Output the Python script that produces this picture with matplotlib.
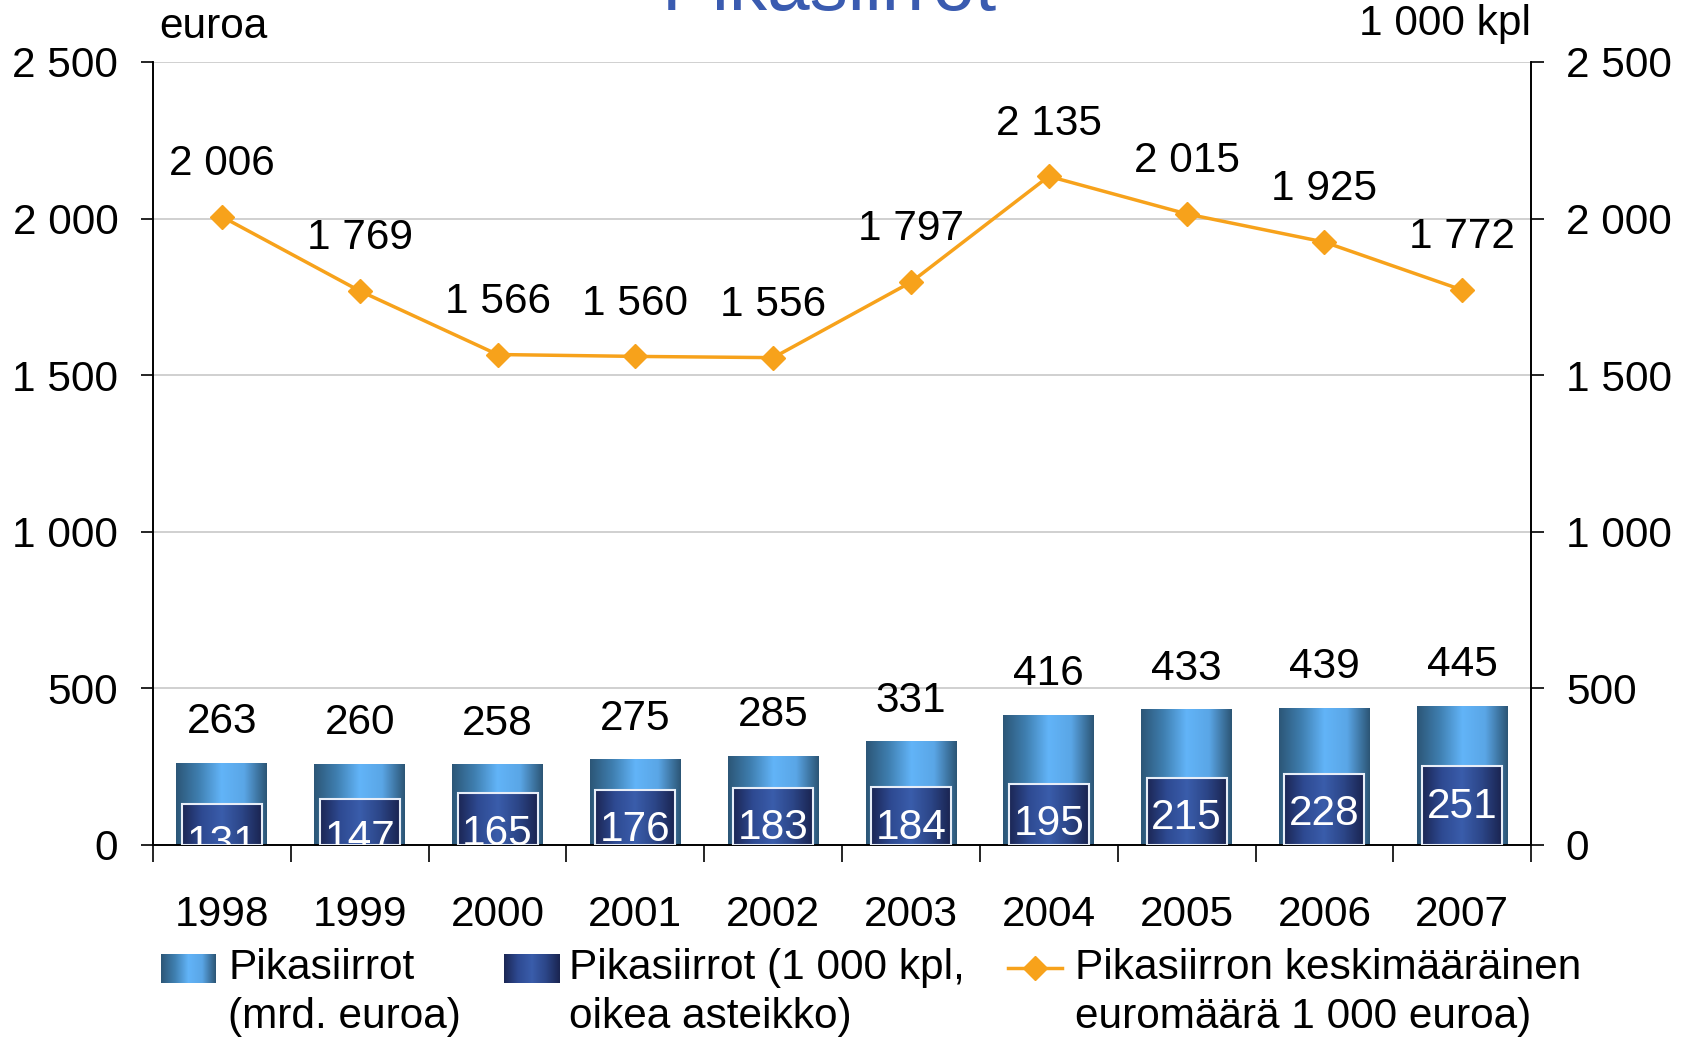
import matplotlib
matplotlib.use("Agg")
import matplotlib.pyplot as plt
import numpy as np
from matplotlib.colors import LinearSegmentedColormap
from matplotlib.lines import Line2D

plt.rcParams['font.family'] = ['Liberation Sans', 'DejaVu Sans']

# data
years = ['1998', '1999', '2000', '2001', '2002', '2003', '2004', '2005', '2006', '2007']
transfers_eur = [263, 260, 258, 275, 285, 331, 416, 433, 439, 445]      # mrd. euroa
transfers_kpl = [131, 147, 165, 176, 183, 184, 195, 215, 228, 251]      # 1 000 kpl
avg_amount = [2006, 1769, 1566, 1560, 1556, 1797, 2135, 2015, 1925, 1772]

yticks = [0, 500, 1000, 1500, 2000, 2500]

def fmt(v):
    return f"{v:,}".replace(",", " ")

light_cm = LinearSegmentedColormap.from_list('light', ['#2c5677', '#3f7fb0', '#62b4f8', '#5aa6e6', '#2c5575'])
dark_cm = LinearSegmentedColormap.from_list('dark', ['#1b2654', '#2e4a92', '#3a5dab', '#2c4688', '#1a2450'])
grad = np.linspace(0, 1, 256).reshape(1, -1)
orange = '#f7a21b'
FS = 30.5

fig = plt.figure(figsize=(16.82, 10.4), dpi=100)
ax = fig.add_axes([0.0910, 0.1875, 0.8193, 0.7529])
ax2 = ax.twinx()

x = np.arange(len(years))

# light bars (left scale)
bars = ax.bar(x, transfers_eur, width=0.66, color='none', zorder=2)
for r in bars:
    im = ax.imshow(grad, cmap=light_cm, aspect='auto', zorder=2,
                   extent=[r.get_x(), r.get_x() + r.get_width(), 0, r.get_height()])
    im.set_clip_path(r)
for xi, v in zip(x, transfers_eur):
    ax.annotate(str(v), (xi, v), xytext=(0, 29), textcoords='offset points',
                ha='center', va='center', fontsize=FS)

# dark bars (right scale)
bars2 = ax2.bar(x, transfers_kpl, width=0.58, color='none', edgecolor='none', zorder=2)
for r in bars2:
    im = ax2.imshow(grad, cmap=dark_cm, aspect='auto', zorder=2,
                    extent=[r.get_x(), r.get_x() + r.get_width(), 0, r.get_height()])
    im.set_clip_path(r)
ax2.bar(x, transfers_kpl, width=0.58, fill=False, edgecolor='#e8eef8', linewidth=1.5, zorder=3)
for xi, v in zip(x, transfers_kpl):
    ax2.annotate(str(v), (xi, v), xytext=(0, -29), textcoords='offset points',
                 ha='center', va='center', fontsize=FS, color='white', clip_on=True)

# average amount line (left scale)
ax.plot(x, avg_amount, color=orange, lw=2.5, marker='D', markersize=12, zorder=5)
for xi, v in zip(x, avg_amount):
    ax.annotate(fmt(v), (xi, v), xytext=(0, 38), textcoords='offset points',
                ha='center', va='center', fontsize=FS)

for a in (ax, ax2):
    a.set_xlim(-0.5, len(years) - 0.5)
    a.set_ylim(0, 2500)
    a.set_yticks(yticks)
    a.set_yticklabels([fmt(t) for t in yticks])
    a.spines['top'].set_visible(False)
    a.tick_params(axis='y', labelsize=FS, length=9, width=1.2, pad=16, direction='out')

ax.yaxis.grid(True, color='#c8c8c8', lw=1.2)
ax.set_axisbelow(True)
ax.set_xticks(x)
ax.set_xticklabels(years)
ax.set_xticks(np.arange(-0.5, len(years)), minor=True)
ax.tick_params(axis='x', which='major', length=0, labelsize=FS, pad=36)
ax.tick_params(axis='x', which='minor', length=12, width=1.2, direction='out')
ax2.tick_params(axis='x', length=0)
for a in (ax, ax2):
    for s in ('left', 'right', 'bottom'):
        a.spines[s].set_linewidth(1.2)

fig.text(159 / 1682, 1 - 27 / 1040, 'euroa', fontsize=FS, ha='left', va='center')
fig.text(1531 / 1682, 1 - 24 / 1040, '1 000 kpl', fontsize=FS, ha='right', va='center')
fig.text(0.493, 1 - 10 / 1040, 'Pikasiirrot', fontsize=55, color='#3a5bb0',
         ha='center', va='baseline')

# legend, drawn by hand
y1 = 1 - 968 / 1040
y2 = 1 - 1017 / 1040
for (px, cm_), tx, l1, l2 in [((161, light_cm), 228, 'Pikasiirrot', '(mrd. euroa)'),
                              ((504, dark_cm), 569, 'Pikasiirrot (1 000 kpl,', 'oikea asteikko)')]:
    lax = fig.add_axes([px / 1682, 1 - 983 / 1040, 55 / 1682, 29 / 1040])
    lax.imshow(grad, cmap=cm_, aspect='auto')
    lax.axis('off')
    fig.text(tx / 1682, y1, l1, fontsize=FS, va='center')
    fig.text(tx / 1682, y2, l2, fontsize=FS, va='center')
fig.add_artist(Line2D([1008 / 1682, 1062 / 1682], [y1, y1], transform=fig.transFigure,
                      color=orange, lw=2.5))
fig.add_artist(Line2D([1035 / 1682], [y1], transform=fig.transFigure, color=orange,
                      marker='D', markersize=12))
fig.text(1075 / 1682, y1, 'Pikasiirron keskimääräinen', fontsize=FS, va='center')
fig.text(1075 / 1682, y2, 'euromäärä 1 000 euroa)', fontsize=FS, va='center')

fig.savefig('out.png', dpi=100)
